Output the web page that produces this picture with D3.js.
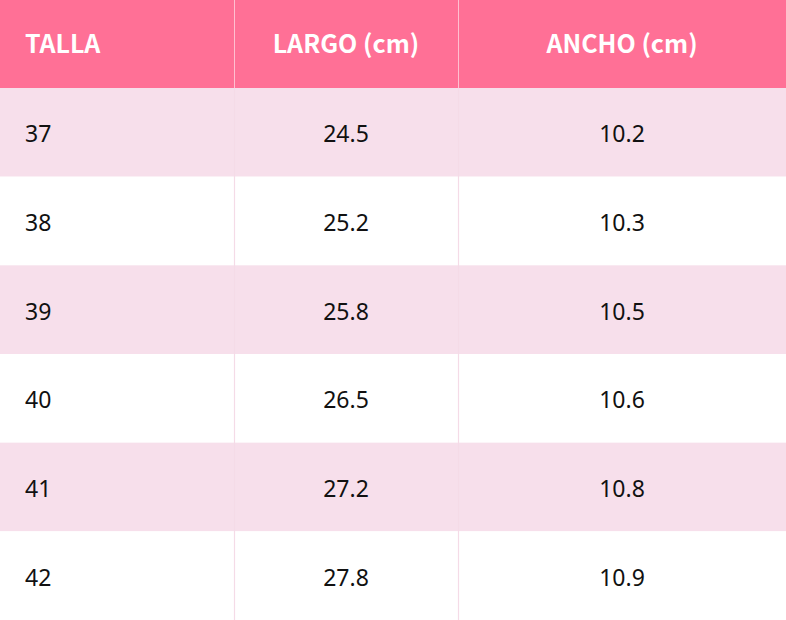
<!DOCTYPE html>
<html>
<head>
<meta charset="utf-8">
<script src="https://cdn.jsdelivr.net/npm/d3@7"></script>
<style>
  body { margin: 0; background: #fff; }
  svg { display: block; }
</style>
</head>
<body>
<div id="chart"></div>
<script>
// table data
var headers = ["TALLA", "LARGO (cm)", "ANCHO (cm)"];
var tallas = ["37", "38", "39", "40", "41", "42"];
var largo = [24.5, 25.2, 25.8, 26.5, 27.2, 27.8];
var ancho = [10.2, 10.3, 10.5, 10.6, 10.8, 10.9];

function base() {
    var w = 786, h = 620;
    var headH = 88;
    var headFont = "'Noto Sans CJK JP', 'Noto Sans', sans-serif";
    var bodyFont = "'Noto Sans', sans-serif";

    var rows = tallas.map(function(t, i) {
        return [t, largo[i].toFixed(1), ancho[i].toFixed(1)];
    });

    // column edges
    var colEdges = [0, 234, 458, w];

    var yScale = d3.scaleBand()
        .domain(d3.range(rows.length))
        .range([headH, h]);

    var svg = d3.select("#chart")
        .append("svg")
        .attr("width", w)
        .attr("height", h);

    // header
    svg.append("rect")
        .attr("x", 0).attr("y", 0)
        .attr("width", w).attr("height", headH)
        .attr("fill", "#ff7096");

    // row backgrounds
    svg.selectAll("rect.row")
        .data(rows)
        .enter()
        .append("rect")
        .attr("class", "row")
        .attr("x", 0)
        .attr("y", function(d, i) { return yScale(i); })
        .attr("width", w)
        .attr("height", yScale.bandwidth())
        .attr("fill", function(d, i) { return i % 2 === 0 ? "#f7dfeb" : "#ffffff"; });

    // vertical lines
    svg.selectAll("line.sep")
        .data([1, 2])
        .enter()
        .append("line")
        .attr("x1", function(d) { return colEdges[d] + 0.5; })
        .attr("x2", function(d) { return colEdges[d] + 0.5; })
        .attr("y1", headH)
        .attr("y2", h)
        .attr("stroke", "#f5dbe7")
        .attr("stroke-width", 1.2);

    svg.selectAll("line.hsep")
        .data([1, 2])
        .enter()
        .append("line")
        .attr("x1", function(d) { return colEdges[d] + 0.5; })
        .attr("x2", function(d) { return colEdges[d] + 0.5; })
        .attr("y1", 0)
        .attr("y2", headH)
        .attr("stroke", "#ffc0d0")
        .attr("stroke-width", 1);

    function textX(i) {
        return i === 0 ? 25 : (colEdges[i] + colEdges[i + 1]) / 2;
    }

    // header text
    svg.selectAll("text.head")
        .data(headers)
        .enter()
        .append("text")
        .attr("class", "head")
        .attr("x", function(d, i) { return textX(i); })
        .attr("y", 44)
        .attr("dy", "0.35em")
        .attr("text-anchor", function(d, i) { return i === 0 ? "start" : "middle"; })
        .attr("fill", "#fff")
        .style("font-family", headFont)
        .style("font-weight", "bold")
        .style("font-size", "25px")
        .text(function(d) { return d; });

    // cells
    var rowG = svg.selectAll("g.r")
        .data(rows)
        .enter()
        .append("g")
        .attr("class", "r")
        .attr("transform", function(d, i) {
            return "translate(0," + (yScale(i) + yScale.bandwidth() / 2 + 2) + ")";
        });

    rowG.selectAll("text")
        .data(function(d) { return d; })
        .enter()
        .append("text")
        .attr("x", function(d, i) { return textX(i); })
        .attr("dy", "0.35em")
        .attr("text-anchor", function(d, i) { return i === 0 ? "start" : "middle"; })
        .attr("fill", "#111")
        .style("font-family", bodyFont)
        .style("font-size", "23px")
        .text(function(d) { return d; });
}

window.onload = base;
</script>
</body>
</html>
